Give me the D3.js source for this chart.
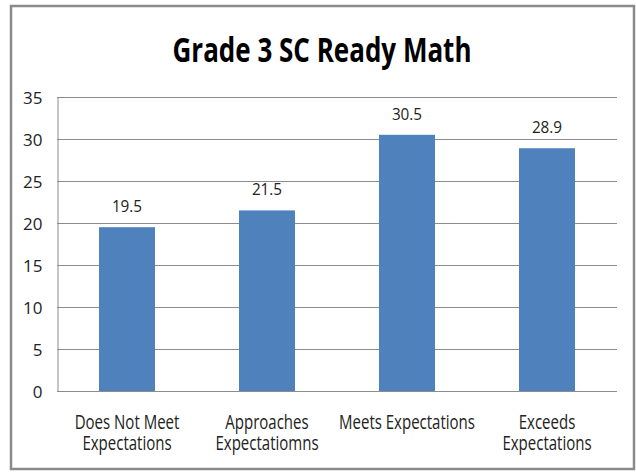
<!DOCTYPE html>
<html>
<head>
<meta charset="utf-8">
<script src="https://cdn.jsdelivr.net/npm/d3@7/dist/d3.min.js"></script>
<style>
html,body{margin:0;padding:0;background:#fff;}
svg{display:block;}
text{font-family:"Open Sans","Liberation Sans",sans-serif;fill:#222;}
</style>
</head>
<body>
<svg id="chart" width="636" height="472"></svg>
<script>
const title = "Grade 3 SC Ready Math";
const categories = [["Does Not Meet","Expectations"],["Approaches","Expectatiomns"],["Meets Expectations"],["Exceeds","Expectations"]];
const values = [19.5, 21.5, 30.5, 28.9];
const yTicks = [0,5,10,15,20,25,30,35];

const svg = d3.select("#chart");
const W = 636, H = 472;
const m = {left:57, right:19, top:97, bottom:81};

svg.append("rect").attr("x",11).attr("y",6).attr("width",623).attr("height",463)
  .attr("fill","#fff").attr("stroke","#8a8a8a").attr("stroke-width",2.5);

svg.append("text").attr("x",322).attr("y",62).attr("text-anchor","middle")
  .attr("font-size",34).attr("font-weight","bold").style("fill","#000")
  .attr("textLength",299).attr("lengthAdjust","spacingAndGlyphs").text(title);

const x = d3.scaleBand().domain(d3.range(categories.length)).range([m.left, W-m.right]).paddingInner(0.6).paddingOuter(0.3);
const y = d3.scaleLinear().domain([0,35]).range([H-m.bottom, m.top]);

// gridlines
svg.append("g").selectAll("line").data(yTicks).join("line")
  .attr("x1",m.left).attr("x2",W-m.right)
  .attr("y1",d=>Math.round(y(d))+0.5).attr("y2",d=>Math.round(y(d))+0.5)
  .attr("stroke","#8c8c8c").attr("stroke-width",1);

// y axis
const yAxis = d3.axisLeft(y).tickValues(yTicks).tickSize(0).tickPadding(15);
const gy = svg.append("g").attr("transform",`translate(${m.left+0.5},0)`).call(yAxis);
gy.select(".domain").attr("stroke","#8c8c8c");
gy.selectAll("text").attr("font-size",17).style("font-family",'"Open Sans","Liberation Sans",sans-serif').style("fill","#222").attr("dy","0.36em");

// bars
svg.append("g").selectAll("rect").data(values).join("rect")
  .attr("x",(d,i)=>x(i)).attr("width",x.bandwidth())
  .attr("y",d=>y(d)).attr("height",d=>y(0)-y(d))
  .attr("fill","#4f81bd");

// value labels
svg.append("g").selectAll("g").data(values).join("g")
  .attr("transform",(d,i)=>`translate(${x(i)+x.bandwidth()/2},${y(d)-15}) scale(0.9,1)`)
  .append("text").attr("text-anchor","middle").attr("font-size",17)
  .text(d=>d.toFixed(1));

// x labels
const xl = svg.append("g").selectAll("g").data(categories).join("g")
  .attr("transform",(d,i)=>`translate(${x(i)+x.bandwidth()/2},429) scale(0.77,1)`)
  .append("text").attr("text-anchor","middle").attr("font-size",19.5);
xl.selectAll("tspan").data(d=>d).join("tspan")
  .attr("x",0).attr("dy",(d,i)=>i===0?0:21).text(d=>d);
</script>
</body>
</html>
